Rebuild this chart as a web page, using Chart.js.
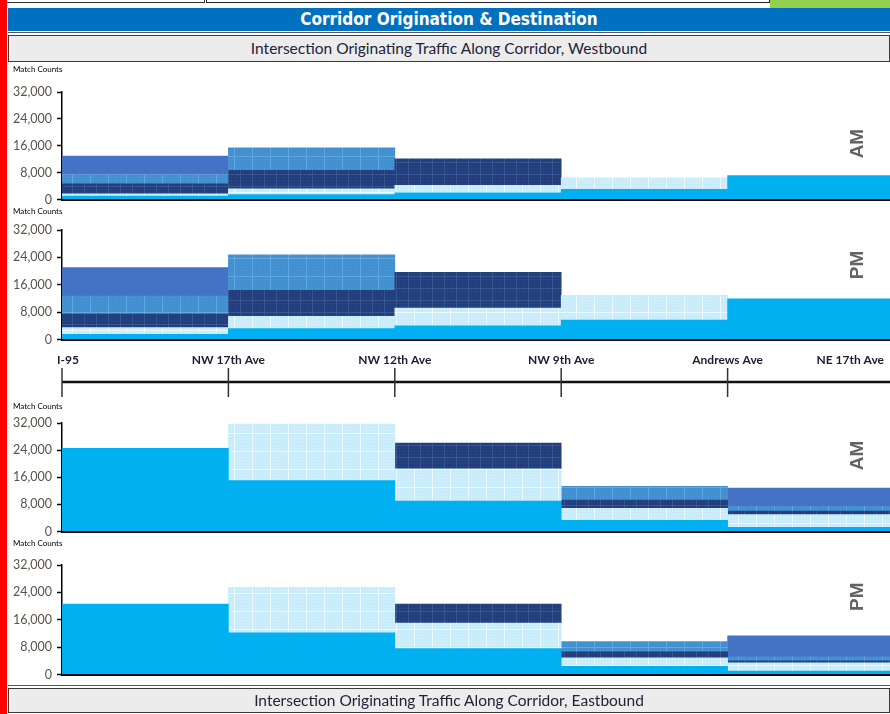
<!DOCTYPE html>
<html>
<head>
<meta charset="utf-8">
<script src="https://cdn.jsdelivr.net/npm/chart.js@4.4.0/dist/chart.umd.min.js"></script>
<style>
html, body { margin: 0; padding: 0; background: #fff; }
body { width: 890px; height: 714px; overflow: hidden; position: relative; font-family: Lato, "Liberation Sans", sans-serif; }
.abs { position: absolute; }
#redbar { left: 0; top: 0; width: 7px; height: 714px; background: #ff0000; }
#topA { left: 7px; top: 0; width: 197px; height: 2px; border-bottom: 1px solid #333; border-right: 1px solid #333; }
#topB { left: 206px; top: 0; width: 562px; height: 2px; border: 1px solid #222; border-top: 0; }
#green { left: 770px; top: 0; width: 120px; height: 8px; background: #92d050; }
#title { left: 8px; top: 8px; width: 882px; height: 23px; background: #0070c0; color: #fff;
  font-family: "Liberation Sans Narrow", "DejaVu Sans Condensed", sans-serif; font-weight: bold; font-size: 17px;
  line-height: 23px; text-align: center; }
.band { left: 8px; width: 880px; background: #ececec; border: 1px solid #3a3a3a; box-shadow: 0 -2px 0 0 #fff, 0 -3px 0 0 #555;
  color: #22223a; font-size: 15.5px; text-align: center; }
#bandW { top: 35px; height: 25px; line-height: 25px; }
#bandE { top: 688px; height: 23px; line-height: 23px; }
.panel { left: 0; width: 894px; }
</style>
</head>
<body>
<div id="redbar" class="abs"></div>
<div id="topA" class="abs"></div>
<div id="topB" class="abs"></div>
<div id="green" class="abs"></div>
<div id="title" class="abs">Corridor Origination &amp; Destination</div>
<div id="bandW" class="abs band">Intersection Originating Traffic Along Corridor, Westbound</div>

<div class="abs panel" style="top:66px;height:146px"><canvas id="wbAm"></canvas></div>
<div class="abs panel" style="top:204px;height:148px"><canvas id="wbPm"></canvas></div>
<div class="abs panel" style="top:350px;height:52px"><canvas id="corridor"></canvas></div>
<div class="abs panel" style="top:397px;height:147px"><canvas id="ebAm"></canvas></div>
<div class="abs panel" style="top:539px;height:148px"><canvas id="ebPm"></canvas></div>

<div id="bandE" class="abs band">Intersection Originating Traffic Along Corridor, Eastbound</div>

<script>
// corridor segments, west to east
var intersections = ['I-95', 'NW 17th Ave', 'NW 12th Ave', 'NW 9th Ave', 'Andrews Ave', 'NE 17th Ave'];
var segments = ['I-95 - NW 17th', 'NW 17th - NW 12th', 'NW 12th - NW 9th', 'NW 9th - Andrews', 'Andrews - NE 17th'];
var yTicks = [0, 8000, 16000, 24000, 32000];

// westbound: layers by origin intersection (bottom to top)
var wbOrigins = ['NE 17th Ave', 'Andrews Ave', 'NW 9th Ave', 'NW 12th Ave', 'NW 17th Ave'];
var wbAmNE17 = [1000, 1500, 2000, 3000, 7100];
var wbAmAndrews = [700, 1700, 2250, 3450, null];
var wbAmNW9 = [2950, 5500, 7850, null, null];
var wbAmNW12 = [2750, 6650, null, null, null];
var wbAmNW17 = [5500, null, null, null, null];

var wbPmNE17 = [1500, 3200, 4000, 5650, 11900];
var wbPmAndrews = [1950, 3550, 5200, 7250, null];
var wbPmNW9 = [3950, 7600, 10400, null, null];
var wbPmNW12 = [5300, 10400, null, null, null];
var wbPmNW17 = [8300, null, null, null, null];

// eastbound: layers by origin intersection (bottom to top)
var ebOrigins = ['I-95', 'NW 17th Ave', 'NW 12th Ave', 'NW 9th Ave', 'Andrews Ave'];
var ebAmI95 = [24500, 15000, 9000, 3300, 1200];
var ebAmNW17 = [null, 16700, 9500, 3500, 3800];
var ebAmNW12 = [null, null, 7600, 2500, 1000];
var ebAmNW9 = [null, null, null, 4000, 1400];
var ebAmAndrews = [null, null, null, null, 5400];

var ebPmI95 = [20600, 12200, 7600, 2400, 1000];
var ebPmNW17 = [null, 13300, 7400, 2500, 2400];
var ebPmNW12 = [null, null, 5600, 1700, 600];
var ebPmNW9 = [null, null, null, 3000, 1200];
var ebPmAndrews = [null, null, null, null, 6100];

function makePattern(base, line, fine, size) {
  var c = document.createElement('canvas');
  c.width = size; c.height = size;
  var g = c.getContext('2d');
  g.fillStyle = base; g.fillRect(0, 0, size, size);
  g.fillStyle = fine;
  for (var i = 0; i < size; i += 3) {
    for (var j = 0; j < size; j += 3) g.fillRect(i, j, 1, 1);
  }
  g.fillStyle = line;
  g.fillRect(0, 0, 1, size);
  g.fillRect(0, 0, size, 1);
  return g.createPattern(c, 'repeat');
}

var fills = [
  '#00b0f0',
  makePattern('#c8ecfa', '#eef9fe', '#dcf3fd', 18),
  makePattern('#223e7c', '#38578f', '#2d4a8a', 12),
  makePattern('#4290d0', '#62a8de', '#4c98d6', 18),
  '#4472c4'
];

var panelText = {
  id: 'panelText',
  afterDraw: function (chart, args, opts) {
    var ctx = chart.ctx, a = chart.chartArea;
    ctx.save();
    ctx.fillStyle = '#000';
    ctx.font = '8px Lato';
    ctx.textBaseline = 'alphabetic';
    ctx.fillText('Match Counts', 13, a.top - opts.titleGap);
    ctx.translate(a.right - 36, a.top + (a.bottom - a.top) * opts.tagFrac);
    ctx.rotate(-Math.PI / 2);
    ctx.fillStyle = '#636363';
    ctx.font = 'bold 19px "Liberation Sans", sans-serif';
    ctx.textAlign = 'center';
    ctx.textBaseline = 'middle';
    ctx.fillText(opts.tag, 0, 0);
    ctx.restore();
  }
};

function makePanel(id, names, layers, tag, tagFrac, titleGap) {
  new Chart(document.getElementById(id), {
    type: 'bar',
    data: {
      labels: segments,
      datasets: layers.map(function (vals, i) {
        return {
          label: 'From ' + names[i],
          data: vals,
          backgroundColor: fills[i],
          borderWidth: 0,
          barPercentage: 1,
          categoryPercentage: 1
        };
      })
    },
    options: {
      responsive: true,
      maintainAspectRatio: false,
      animation: false,
      layout: { padding: { top: 26, right: 0, bottom: 2, left: 0 } },
      plugins: {
        legend: { display: false },
        tooltip: { enabled: false },
        panelText: { tag: tag, tagFrac: tagFrac, titleGap: titleGap }
      },
      scales: {
        x: {
          stacked: true,
          grid: { display: false },
          ticks: { display: false },
          border: { display: true, color: '#000', width: 3 }
        },
        y: {
          stacked: true,
          min: yTicks[0],
          max: yTicks[yTicks.length - 1],
          afterFit: function (s) { s.width = 62; },
          afterBuildTicks: function (s) { s.ticks = yTicks.map(function (v) { return { value: v }; }); },
          ticks: { color: '#5b524a', font: { family: 'Lato', size: 12.5 }, padding: 5 },
          grid: { drawOnChartArea: false, drawTicks: true, tickLength: 5, tickColor: '#000', tickWidth: 1.5 },
          border: { color: '#000', width: 1.5 }
        }
      }
    },
    plugins: [panelText]
  });
}

makePanel('wbAm', wbOrigins, [wbAmNE17, wbAmAndrews, wbAmNW9, wbAmNW12, wbAmNW17], 'AM', 0.48, 20);
makePanel('wbPm', wbOrigins, [wbPmNE17, wbPmAndrews, wbPmNW9, wbPmNW12, wbPmNW17], 'PM', 0.32, 16);
makePanel('ebAm', ebOrigins, [ebAmI95, ebAmNW17, ebAmNW12, ebAmNW9, ebAmAndrews], 'AM', 0.30, 14);
makePanel('ebPm', ebOrigins, [ebPmI95, ebPmNW17, ebPmNW12, ebPmNW9, ebPmAndrews], 'PM', 0.29, 19);

// corridor intersection axis
new Chart(document.getElementById('corridor'), {
  type: 'scatter',
  data: { datasets: [] },
  options: {
    responsive: true,
    maintainAspectRatio: false,
    animation: false,
    layout: { padding: { top: 0, right: 0, bottom: 0, left: 62 } },
    plugins: { legend: { display: false }, tooltip: { enabled: false } },
    scales: {
      x: { type: 'linear', min: 0, max: intersections.length - 1, display: false },
      y: { display: false }
    }
  },
  plugins: [{
    id: 'corridorAxis',
    afterDraw: function (chart) {
      var ctx = chart.ctx, a = chart.chartArea, xs = chart.scales.x;
      var lineY = a.top + 32;
      ctx.save();
      ctx.strokeStyle = '#111';
      ctx.lineWidth = 2.5;
      ctx.beginPath();
      ctx.moveTo(xs.getPixelForValue(0), lineY);
      ctx.lineTo(a.right, lineY);
      ctx.stroke();
      ctx.lineWidth = 1.5;
      ctx.strokeStyle = '#333';
      ctx.font = 'bold 12px Lato';
      ctx.fillStyle = '#1c1c30';
      ctx.textBaseline = 'middle';
      intersections.forEach(function (name, i) {
        var x = xs.getPixelForValue(i);
        if (i < intersections.length - 1) {
          ctx.beginPath();
          ctx.moveTo(x, a.top + 18);
          ctx.lineTo(x, a.top + 47);
          ctx.stroke();
        }
        var w = ctx.measureText(name).width;
        var tx = Math.min(x - w / 2, chart.width - 10 - w);
        tx = Math.max(tx, 57);
        ctx.fillText(name, tx, a.top + 10);
      });
      ctx.restore();
    }
  }]
});
</script>
</body>
</html>
